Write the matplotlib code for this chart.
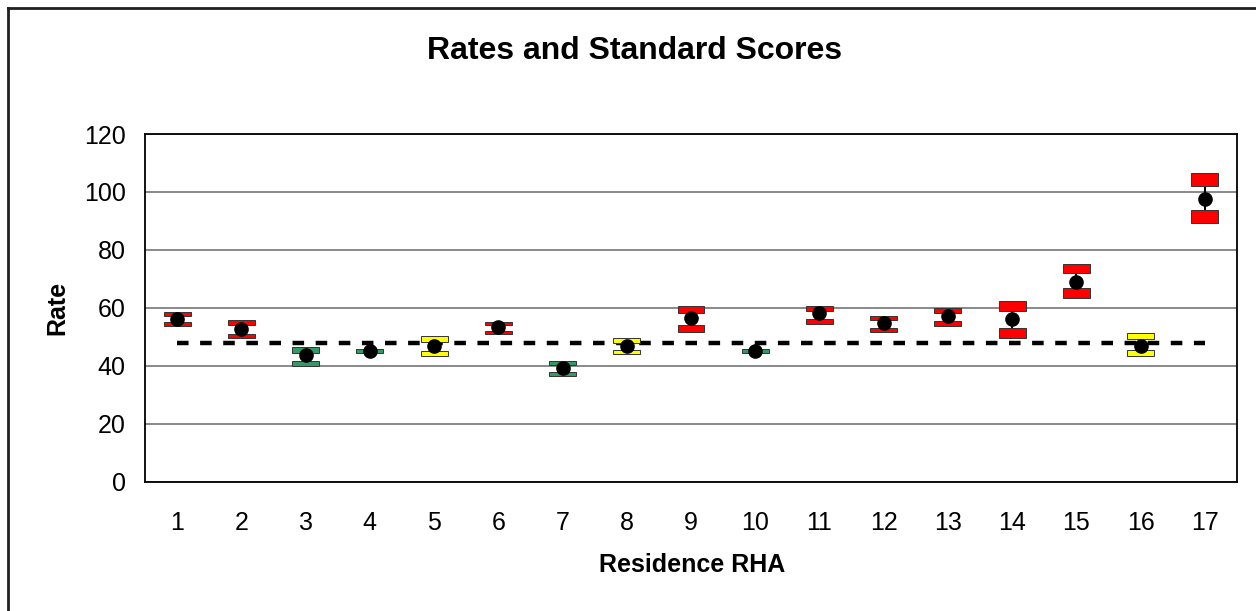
import matplotlib
matplotlib.use("Agg")
import matplotlib.pyplot as plt
from matplotlib.patches import Rectangle
from matplotlib.lines import Line2D

plt.rcParams['font.family'] = ['Liberation Sans', 'DejaVu Sans']

# ---- data ----
regions = [str(i) for i in range(1, 18)]
rate = [56.0, 52.5, 43.6, 44.9, 46.8, 53.2, 39.2, 46.8, 56.6, 44.9,
        58.1, 54.6, 57.1, 56.0, 69.0, 46.9, 97.6]
upper_ci = [58.6, 55.7, 46.3, 45.8, 50.2, 55.2, 41.6, 49.4, 60.6, 45.8,
            60.7, 57.2, 59.8, 62.2, 75.2, 51.2, 106.6]
lower_ci = [53.7, 49.4, 39.8, 44.3, 43.3, 50.9, 36.4, 44.0, 51.5, 44.3,
            54.3, 51.5, 53.7, 49.4, 63.5, 43.3, 89.2]
flag = ['high', 'high', 'low', 'low', 'avg', 'high', 'low', 'avg', 'high', 'low',
        'high', 'high', 'high', 'high', 'high', 'avg', 'high']
overall_rate = 47.7
y_ticks = [0, 20, 40, 60, 80, 100, 120]

flag_colors = {'high': '#FF0000', 'low': '#339966', 'avg': '#FFFF00'}

fig = plt.figure(figsize=(12.56, 6.11), dpi=100)
ax = fig.add_axes([145/1256, 1 - 481.5/611, (1237-145)/1256, (481.5-134)/611])

x = list(range(1, len(regions) + 1))
box_w = 0.42
frac = 0.27
min_h = 1.2

ax.set_xlim(0.5, len(regions) + 0.5)
ax.set_ylim(0, 120)
ax.set_yticks(y_ticks)
ax.set_xticks(x)
ax.set_xticklabels(regions)
ax.grid(axis='y', color='#808080', linewidth=1.3)
ax.set_axisbelow(True)
for s in ax.spines.values():
    s.set_color('black')
    s.set_linewidth(1.3)
ax.tick_params(length=0, labelsize=18)
ax.tick_params(axis='x', pad=21)
ax.tick_params(axis='y', pad=14)

# reference line
ax.plot(x, [overall_rate] * len(x), color='black', linewidth=3.2,
        linestyle=(0, (2.6, 2.6)), zorder=2, dash_capstyle='butt')

for xi, r, hi, lo, f in zip(x, rate, upper_ci, lower_ci, flag):
    h = max(frac * (hi - lo), min_h)
    c = flag_colors[f]
    if hi - h > lo + h:
        ax.plot([xi, xi], [lo + h, hi - h], color='black', linewidth=1.5, zorder=3)
        ax.add_patch(Rectangle((xi - box_w/2, hi - h), box_w, h, facecolor=c,
                               edgecolor='#333333', linewidth=0.7, zorder=4))
        ax.add_patch(Rectangle((xi - box_w/2, lo), box_w, h, facecolor=c,
                               edgecolor='#333333', linewidth=0.7, zorder=4))
    else:
        ax.add_patch(Rectangle((xi - box_w/2, lo), box_w, hi - lo, facecolor=c,
                               edgecolor='#333333', linewidth=0.7, zorder=4))
ax.plot(x, rate, linestyle='none', marker='o', markersize=9.5,
        color='black', zorder=5)

fig.text(635/1256, 1 - 51/611, 'Rates and Standard Scores', ha='center', va='center',
         fontsize=23, fontweight='bold')
fig.text(692/1256, 1 - 565/611, 'Residence RHA', ha='center', va='center',
         fontsize=18, fontweight='bold')
fig.text(57/1256, 1 - 308/611, 'Rate', ha='center', va='center', rotation=90,
         fontsize=18, fontweight='bold')

# outer chart border (top and left visible)
fig.add_artist(Line2D([8/1256, 8/1256], [0, 1 - 8/611], color='#202020', linewidth=2,
                      transform=fig.transFigure))
fig.add_artist(Line2D([8/1256, 1], [1 - 8/611, 1 - 8/611], color='#202020', linewidth=2,
                      transform=fig.transFigure))

fig.savefig('out.png', dpi=100, facecolor='white')
